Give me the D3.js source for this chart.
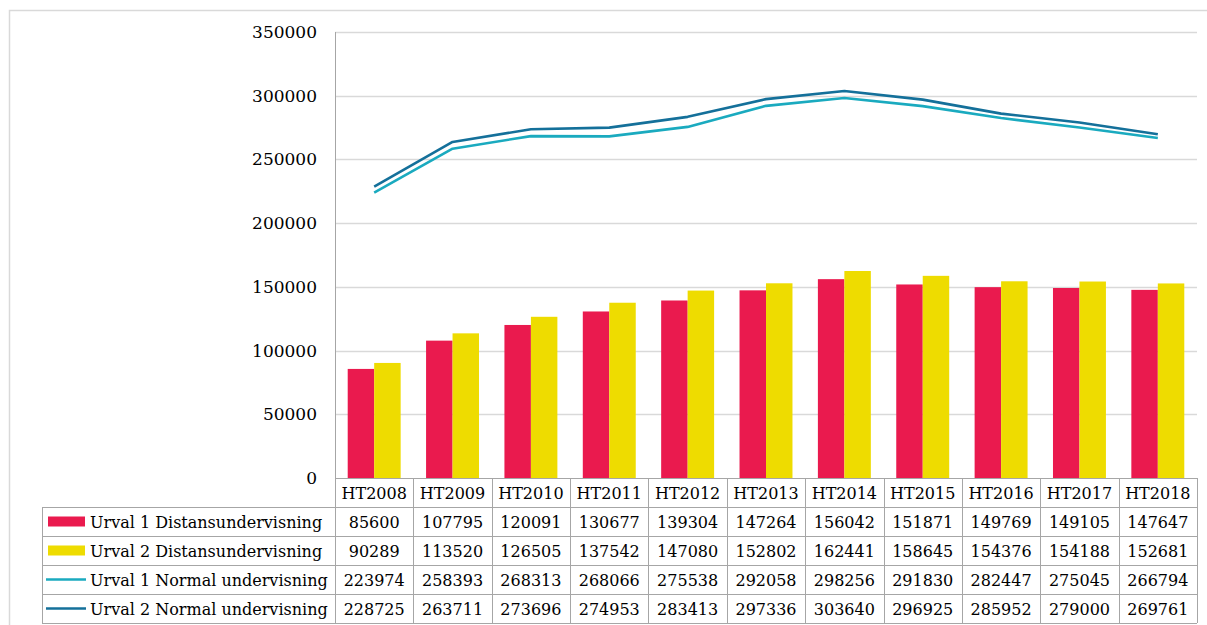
<!DOCTYPE html>
<html>
<head>
<meta charset="utf-8">
<script src="https://cdn.jsdelivr.net/npm/d3@7"></script>
<style>
  html, body { margin: 0; padding: 0; background: #fff; }
  svg { display: block; }
  text { font-family: "DejaVu Serif", "Liberation Serif", serif; fill: #000; }
</style>
</head>
<body>
<svg id="chart" width="1207" height="625"></svg>
<script>
// Terms (HT = autumn term)
const categories = ["HT2008","HT2009","HT2010","HT2011","HT2012","HT2013","HT2014","HT2015","HT2016","HT2017","HT2018"];

// Series values per term
const urval1Distans = [85600,107795,120091,130677,139304,147264,156042,151871,149769,149105,147647];
const urval2Distans = [90289,113520,126505,137542,147080,152802,162441,158645,154376,154188,152681];
const urval1Normal  = [223974,258393,268313,268066,275538,292058,298256,291830,282447,275045,266794];
const urval2Normal  = [228725,263711,273696,274953,283413,297336,303640,296925,285952,279000,269761];

const seriesNames = ["Urval 1 Distansundervisning","Urval 2 Distansundervisning","Urval 1 Normal undervisning","Urval 2 Normal undervisning"];
const yTicks = [0,50000,100000,150000,200000,250000,300000,350000];

const series = [
  { name: seriesNames[0], values: urval1Distans, type: "bar",  color: "#EA1A4E" },
  { name: seriesNames[1], values: urval2Distans, type: "bar",  color: "#EEDC00" },
  { name: seriesNames[2], values: urval1Normal,  type: "line", color: "#1AAABF" },
  { name: seriesNames[3], values: urval2Normal,  type: "line", color: "#14709A" }
];

const svg = d3.select("#chart");
const gridColor = "#D9D9D9";
const tableColor = "#A6A6A6";

// outer chart frame
svg.append("rect").attr("x", 9.5).attr("y", 10.5).attr("width", 1220).attr("height", 640)
  .attr("fill", "none").attr("stroke", gridColor).attr("stroke-width", 1.5);

const plot = { left: 335, right: 1197, top: 32, bottom: 478 };

const x = d3.scaleBand().domain(categories).range([plot.left, plot.right]).padding(0);
const y = d3.scaleLinear().domain([0, 350000]).range([plot.bottom, plot.top]);

const barSeries = series.filter(s => s.type === "bar");
const lineSeries = series.filter(s => s.type === "line");
const xInner = d3.scaleBand().domain(barSeries.map(s => s.name))
  .range([0, x.bandwidth()]).paddingInner(0).paddingOuter(0.48);

// gridlines
svg.append("g").selectAll("line").data(yTicks.filter(t => t > 0)).join("line")
  .attr("x1", plot.left).attr("x2", plot.right)
  .attr("y1", d => Math.round(y(d)) + 0.5).attr("y2", d => Math.round(y(d)) + 0.5)
  .attr("stroke", gridColor).attr("stroke-width", 1.5);

// y axis labels
const yAxis = d3.axisLeft(y).tickValues(yTicks).tickSize(0).tickPadding(18).tickFormat(d3.format("d"));
const gy = svg.append("g").attr("transform", `translate(${plot.left},0)`).call(yAxis);
gy.select(".domain").remove();
gy.selectAll("text").attr("font-size", 17).attr("font-family", "DejaVu Serif, serif").attr("fill", "#000");

// bars
const gBars = svg.append("g");
barSeries.forEach(s => {
  gBars.append("g").selectAll("rect").data(s.values).join("rect")
    .attr("x", (d, i) => x(categories[i]) + xInner(s.name))
    .attr("width", xInner.bandwidth())
    .attr("y", d => y(d))
    .attr("height", d => y(0) - y(d))
    .attr("fill", s.color);
});

// lines
const line = d3.line()
  .x((d, i) => x(categories[i]) + x.bandwidth() / 2)
  .y(d => y(d));
lineSeries.forEach(s => {
  svg.append("path").datum(s.values).attr("d", line)
    .attr("fill", "none").attr("stroke", s.color).attr("stroke-width", 2.6)
    .attr("stroke-linejoin", "round");
});

// data table
const rowH = 29;
const tableTop = plot.bottom;
const legendLeft = 42;
const nRows = series.length;
const tableBottom = tableTop + rowH * (nRows + 1);
const gT = svg.append("g");

// horizontal rules
gT.append("line").attr("x1", plot.left).attr("x2", plot.right)
  .attr("y1", tableTop + 0.5).attr("y2", tableTop + 0.5).attr("stroke", tableColor);
d3.range(1, nRows + 2).forEach(r => {
  gT.append("line").attr("x1", legendLeft).attr("x2", plot.right)
    .attr("y1", tableTop + r * rowH + 0.5).attr("y2", tableTop + r * rowH + 0.5)
    .attr("stroke", tableColor);
});
// vertical rules
categories.forEach(c => {
  gT.append("line").attr("x1", Math.round(x(c) + x.bandwidth()) + 0.5).attr("x2", Math.round(x(c) + x.bandwidth()) + 0.5)
    .attr("y1", tableTop).attr("y2", tableBottom).attr("stroke", tableColor);
});
gT.append("line").attr("x1", plot.left + 0.5).attr("x2", plot.left + 0.5)
  .attr("y1", plot.top).attr("y2", tableBottom).attr("stroke", tableColor);
gT.append("line").attr("x1", legendLeft + 0.5).attr("x2", legendLeft + 0.5)
  .attr("y1", tableTop + rowH).attr("y2", tableBottom).attr("stroke", tableColor);

// header row: category labels
gT.selectAll("text.cat").data(categories).join("text").attr("class", "cat")
  .attr("x", d => x(d) + x.bandwidth() / 2).attr("y", tableTop + rowH / 2 + 6)
  .attr("text-anchor", "middle").attr("font-size", 16).text(d => d);

// data rows
series.forEach((s, r) => {
  const cy = tableTop + (r + 1) * rowH + rowH / 2;
  if (s.type === "bar") {
    gT.append("rect").attr("x", 48).attr("y", cy - 5).attr("width", 37).attr("height", 10).attr("fill", s.color);
  } else {
    gT.append("line").attr("x1", 46).attr("x2", 86).attr("y1", cy).attr("y2", cy)
      .attr("stroke", s.color).attr("stroke-width", 2.6);
  }
  gT.append("text").attr("x", 90).attr("y", cy + 6).attr("font-size", 16).text(s.name);
  gT.selectAll(null).data(s.values).join("text")
    .attr("x", (d, i) => x(categories[i]) + x.bandwidth() / 2).attr("y", cy + 6)
    .attr("text-anchor", "middle").attr("font-size", 16).text(d => d);
});
</script>
</body>
</html>
